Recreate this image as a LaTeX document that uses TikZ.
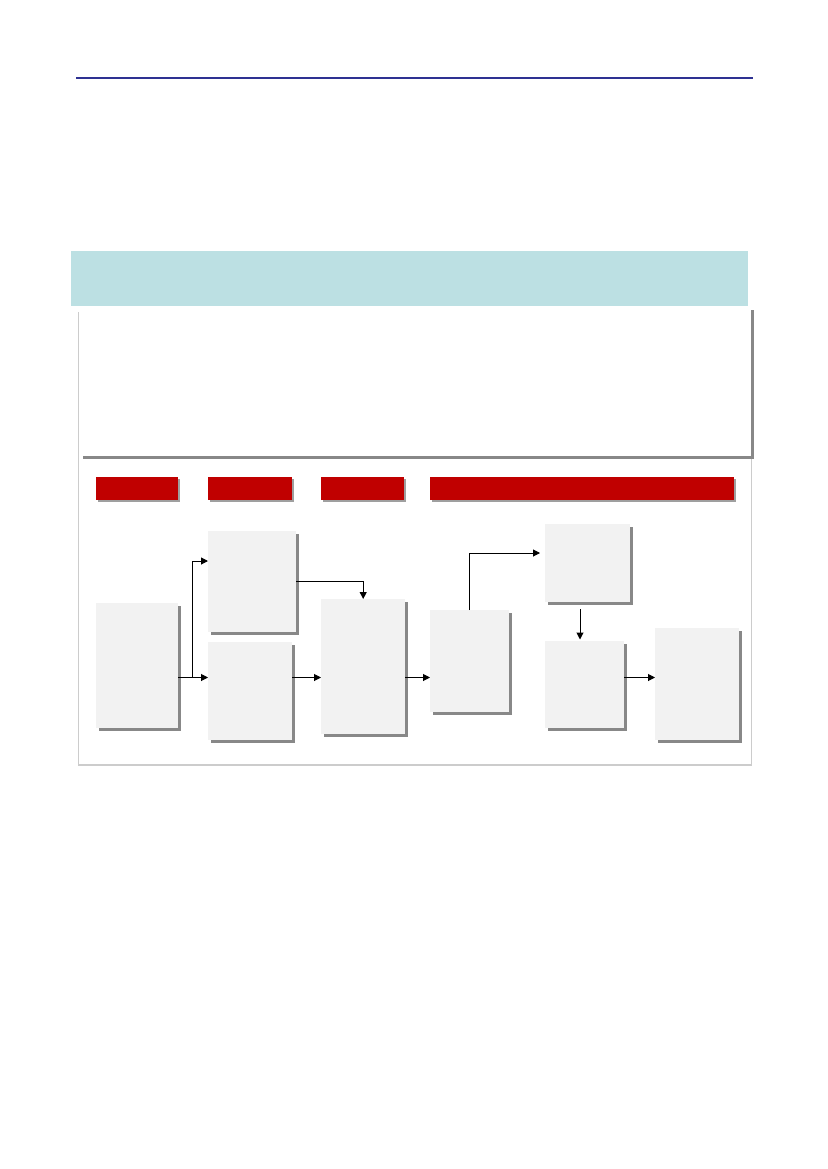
\documentclass[tikz,border=0pt]{standalone}
\usetikzlibrary{shadows,calc,arrows.meta}
\definecolor{topblue}{RGB}{46,49,146}
\definecolor{teal1}{RGB}{188,224,227}
\definecolor{hdrred}{RGB}{192,0,0}
\definecolor{boxgray}{RGB}{242,242,242}
\definecolor{shadowgray}{RGB}{136,136,136}
\definecolor{framegray}{RGB}{204,204,204}
\begin{document}
\begin{tikzpicture}[x=1pt,y=-1pt,
  stepbox/.style={draw=none, fill=boxgray, anchor=north west, inner sep=0pt,
    drop shadow={shadow xshift=3pt, shadow yshift=-3pt, fill=shadowgray, opacity=1}},
  hdr/.style={draw=none, fill=hdrred, anchor=north west, inner sep=0pt, minimum height=23pt,
    drop shadow={shadow xshift=2pt, shadow yshift=-2pt, fill=gray!75, opacity=1}},
  panel/.style={draw=none, fill=white, anchor=north west, inner sep=0pt,
    drop shadow={shadow xshift=2.5pt, shadow yshift=-2.5pt, fill=shadowgray, opacity=1}},
  arr/.style={draw=black, line width=1pt, -{Triangle[length=7pt,width=7pt]}},
]
\useasboundingbox (0,0) rectangle (827,1169);
\fill[white] (0,0) rectangle (827,1169);
% top rule
\draw[topblue, line width=2.3pt] (76,78) -- (753,78);
% teal band
\fill[teal1] (71,251) rectangle (748,305.5);
% frame
\draw[framegray, line width=1.5pt] (78.7,312) -- (78.7,765) -- (751.7,765) -- (751.7,457);
% white panel
\node[panel, minimum width=671pt, minimum height=149pt] (P) at (80,307) {};
% headers
\node[hdr, minimum width=82pt] (H1) at (96,477) {};
\node[hdr, minimum width=84pt] (H2) at (208,477) {};
\node[hdr, minimum width=83pt] (H3) at (321,477) {};
\node[hdr, minimum width=304pt] (H4) at (430,477) {};
% boxes
\node[stepbox, minimum width=82pt, minimum height=125pt] (A) at (96,603) {};
\node[stepbox, minimum width=88pt, minimum height=101pt] (B) at (208,531) {};
\node[stepbox, minimum width=84pt, minimum height=98pt] (C) at (208,642) {};
\node[stepbox, minimum width=84pt, minimum height=135pt] (D) at (321,599) {};
\node[stepbox, minimum width=79pt, minimum height=102pt] (E) at (430,610) {};
\node[stepbox, minimum width=85pt, minimum height=78pt] (F) at (545,524) {};
\node[stepbox, minimum width=79pt, minimum height=87pt] (G) at (545,641) {};
\node[stepbox, minimum width=84pt, minimum height=112pt] (H) at (655,628) {};
% helper coordinates
\coordinate (row) at (0,677.5);
\coordinate (j1) at (192.7,677.5);
\coordinate (rowB) at (0,561);
\coordinate (rowBD) at (0,581);
\coordinate (rowEF) at (0,553);
\coordinate (colF) at (580,0);
% connectors
\draw[arr] (A.east |- row) -- (C.west |- row);
\draw[arr] (j1) |- (B.west |- rowB);
\draw[arr] (B.east |- rowBD) -| (D.north);
\draw[arr] (C.east |- row) -- (D.west |- row);
\draw[arr] (D.east |- row) -- (E.west |- row);
\draw[arr, shorten >=5pt] (E.north) |- (F.west |- rowEF);
\draw[arr, shorten >=1.5pt] ($(F.south -| colF)+(0,7)$) -- (G.north -| colF);
\draw[arr] (G.east |- row) -- (H.west |- row);
\end{tikzpicture}
\end{document}
